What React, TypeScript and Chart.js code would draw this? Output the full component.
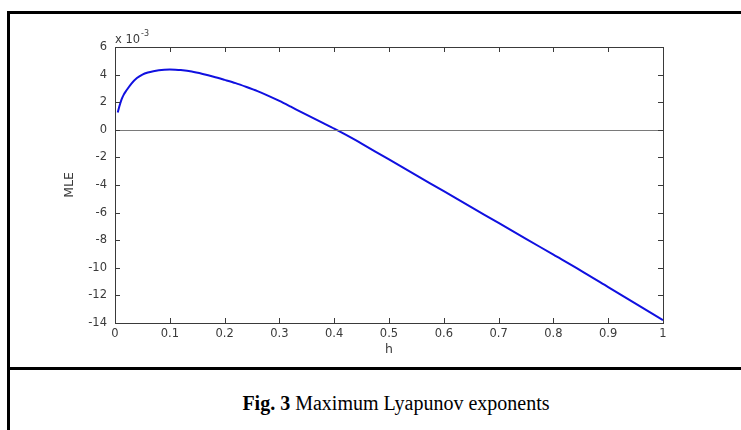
import React, { useEffect, useRef } from "react";
import { Chart, registerables } from "chart.js";

Chart.register(...registerables);

// h values (x axis)
const hValues = [
  0.005, 0.008, 0.012, 0.016, 0.02, 0.03, 0.04, 0.05, 0.06, 0.07, 0.08, 0.09, 0.1,
  0.11, 0.12, 0.14, 0.16, 0.18, 0.2, 0.22, 0.24, 0.26, 0.28, 0.3, 0.32, 0.34, 0.36,
  0.38, 0.4, 0.42, 0.45, 0.5, 0.55, 0.6, 0.65, 0.7, 0.75, 0.8, 0.85, 0.9, 0.95, 1.0,
];
// MLE values in units of 1e-3
const mleValues = [
  1.25, 1.7, 2.2, 2.55, 2.8, 3.35, 3.75, 4.0, 4.15, 4.25, 4.32, 4.36, 4.37,
  4.36, 4.33, 4.22, 4.05, 3.85, 3.62, 3.38, 3.1, 2.8, 2.46, 2.09, 1.69, 1.28, 0.88,
  0.48, 0.08, -0.34, -1.0, -2.15, -3.3, -4.45, -5.6, -6.75, -7.9, -9.05, -10.2, -11.4, -12.6, -13.8,
];
const xTicks = [0, 0.1, 0.2, 0.3, 0.4, 0.5, 0.6, 0.7, 0.8, 0.9, 1];
const yTicks = [-14, -12, -10, -8, -6, -4, -2, 0, 2, 4, 6];

const axisColor = "#3a3a3a";
const fontFam = "'DejaVu Sans', Arial, sans-serif";
const tickFont = { family: fontFam, size: 11.5 };

const framePlugin = {
  id: "matlabFrame",
  afterDatasetsDraw(chart: any) {
    const { ctx, chartArea, scales } = chart;
    const { left, right, top, bottom } = chartArea;
    ctx.save();
    // zero line
    const y0 = scales.y.getPixelForValue(0);
    ctx.strokeStyle = "#7a7a7a";
    ctx.lineWidth = 1.2;
    ctx.beginPath();
    ctx.moveTo(left, Math.round(y0) + 0.5);
    ctx.lineTo(right, Math.round(y0) + 0.5);
    ctx.stroke();
    // box
    ctx.strokeStyle = axisColor;
    ctx.lineWidth = 1;
    ctx.strokeRect(Math.round(left) + 0.5, Math.round(top) + 0.5, Math.round(right - left), Math.round(bottom - top));
    // inward ticks
    const len = 5;
    ctx.beginPath();
    xTicks.forEach((v) => {
      const x = Math.round(scales.x.getPixelForValue(v)) + 0.5;
      ctx.moveTo(x, bottom);
      ctx.lineTo(x, bottom - len);
      ctx.moveTo(x, top);
      ctx.lineTo(x, top + len);
    });
    yTicks.forEach((v) => {
      const y = Math.round(scales.y.getPixelForValue(v)) + 0.5;
      ctx.moveTo(left, y);
      ctx.lineTo(left + len, y);
      ctx.moveTo(right, y);
      ctx.lineTo(right - len, y);
    });
    ctx.stroke();
    // exponent label
    ctx.fillStyle = axisColor;
    ctx.font = "11.5px " + fontFam;
    ctx.textBaseline = "alphabetic";
    ctx.textAlign = "left";
    ctx.fillText("x 10", left, top - 4);
    const w = ctx.measureText("x 10").width;
    ctx.font = "8px " + fontFam;
    ctx.fillText("-3", left + w + 1, top - 11);
    ctx.restore();
  },
};

export default function App() {
  const ref = useRef<HTMLCanvasElement>(null);
  useEffect(() => {
    if (!ref.current) return;
    const chart = new Chart(ref.current, {
      type: "line",
      data: {
        datasets: [
          {
            data: hValues.map((h, i) => ({ x: h, y: mleValues[i] })),
            borderColor: "#1010e0",
            borderWidth: 2,
            pointRadius: 0,
            tension: 0.3,
            fill: false,
          },
        ],
      },
      options: {
        animation: false,
        responsive: false,
        maintainAspectRatio: false,
        layout: { padding: { left: 58, top: 47, right: 78, bottom: 0 } },
        plugins: { legend: { display: false }, tooltip: { enabled: false } },
        scales: {
          x: {
            type: "linear",
            min: 0,
            max: 1,
            afterBuildTicks: (s: any) => {
              s.ticks = xTicks.map((v) => ({ value: v }));
            },
            afterFit: (s: any) => {
              s.height = 368 - 323;
            },
            grid: { display: false, drawTicks: false },
            border: { display: false },
            ticks: {
              color: axisColor,
              font: tickFont,
              padding: 4,
              maxRotation: 0,
              autoSkip: false,
              callback: (v: any) => String(Math.round(Number(v) * 10) / 10),
            },
            title: {
              display: true,
              text: "h",
              color: axisColor,
              font: { family: fontFam, size: 12.5 },
              padding: { top: 0, bottom: 11 },
            },
          },
          y: {
            type: "linear",
            min: -14,
            max: 6,
            afterBuildTicks: (s: any) => {
              s.ticks = yTicks.map((v) => ({ value: v }));
            },
            afterFit: (s: any) => {
              s.width = 115 - 58;
            },
            grid: { display: false, drawTicks: false },
            border: { display: false },
            ticks: {
              color: axisColor,
              font: tickFont,
              padding: 8,
              autoSkip: false,
              callback: (v: any) => String(v),
            },
            title: {
              display: true,
              text: "MLE",
              color: axisColor,
              font: { family: fontFam, size: 12.5 },
              padding: { top: 4, bottom: 0 },
            },
          },
        },
      },
      plugins: [framePlugin],
    });
    return () => chart.destroy();
  }, []);

  return (
    <div style={{ position: "absolute", left: 0, top: 0, width: 741, height: 430, background: "#fff", overflow: "hidden" }}>
      <canvas ref={ref} width={741} height={368} style={{ position: "absolute", left: 0, top: 0, width: 741, height: 368 }} />
      <div style={{ position: "absolute", left: 7, top: 11, width: 734, height: 3, background: "#000" }} />
      <div style={{ position: "absolute", left: 7, top: 11, width: 3, height: 419, background: "#000" }} />
      <div style={{ position: "absolute", left: 7, top: 367, width: 734, height: 3, background: "#000" }} />
      <div
        style={{
          position: "absolute",
          left: 26,
          width: 740,
          top: 391,
          textAlign: "center",
          fontFamily: "'Liberation Serif', 'Times New Roman', serif",
          fontSize: 20,
          color: "#000",
          lineHeight: "24px",
          whiteSpace: "nowrap",
        }}
      >
        <b>Fig. 3</b> Maximum Lyapunov exponents
      </div>
    </div>
  );
}
